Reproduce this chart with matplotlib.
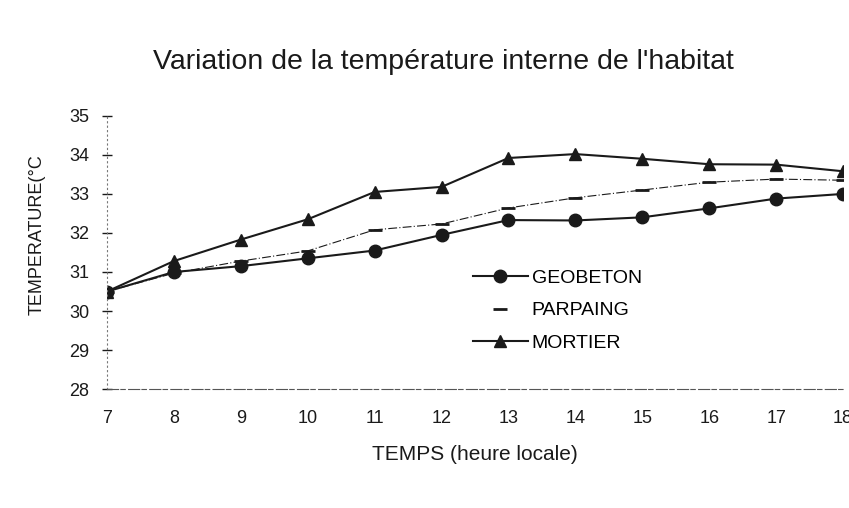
import matplotlib.pyplot as plt
from matplotlib.lines import Line2D

# Donnees
heures = [7, 8, 9, 10, 11, 12, 13, 14, 15, 16, 17, 18]
geobeton = [30.5, 31.0, 31.15, 31.35, 31.55, 31.95, 32.33, 32.32, 32.4, 32.63, 32.88, 33.0]
parpaing = [30.5, 30.97, 31.28, 31.54, 32.08, 32.23, 32.64, 32.9, 33.1, 33.3, 33.38, 33.35]
mortier = [30.5, 31.28, 31.83, 32.35, 33.05, 33.18, 33.92, 34.02, 33.9, 33.76, 33.75, 33.58]
yticks = [28, 29, 30, 31, 32, 33, 34, 35]

plt.rcParams['font.family'] = ['Liberation Sans', 'DejaVu Sans']
encre = '#1a1a1a'

fig = plt.figure(figsize=(8.49, 5.08), dpi=100)
ax = fig.add_axes([0.126, 0.234, 0.867, 0.538])

ax.plot(heures, geobeton, color=encre, lw=1.5, marker='o', ms=9)
ax.plot(heures, parpaing, color=encre, lw=0.8, ls=(0, (8, 2, 1, 2)), marker='_',
        ms=10, mew=2)
ax.plot(heures, mortier, color=encre, lw=1.5, marker='^', ms=9)

ax.set_xlim(7, 18)
ax.set_ylim(28, 35)
ax.set_xticks(heures)
ax.set_yticks(yticks)
ax.tick_params(axis='x', length=0, pad=15, labelsize=13, colors=encre)
ax.tick_params(axis='y', direction='inout', length=7, width=1, pad=9,
               labelsize=13, colors=encre)

for s in ['top', 'right']:
    ax.spines[s].set_visible(False)
ax.spines['left'].set_linestyle((0, (1, 3)))
ax.spines['left'].set_color('#777777')
ax.spines['bottom'].set_linestyle((0, (10, 2, 4, 3)))
ax.spines['bottom'].set_color('#555555')

ax.set_xlabel('TEMPS (heure locale)', fontsize=15, color=encre, labelpad=13)
ax.set_ylabel('TEMPERATURE(°C', fontsize=13, color=encre)
ax.yaxis.set_label_coords(-0.083, 0.564)
fig.text(0.522, 0.878, "Variation de la température interne de l'habitat",
         ha='center', va='center', fontsize=20.5, color=encre)

# Legende: PARPAING n'a que son marqueur
poignees = [
    Line2D([], [], color=encre, lw=1.5, marker='o', ms=9),
    Line2D([], [], color=encre, ls='none', marker='_', ms=10, mew=2),
    Line2D([], [], color=encre, lw=1.5, marker='^', ms=9),
]
ax.legend(poignees, ['GEOBETON', 'PARPAING', 'MORTIER'], loc='upper left',
          bbox_to_anchor=(0.497, 0.437), borderaxespad=0, borderpad=0,
          frameon=False, fontsize=14, handlelength=2.83, labelspacing=0.75,
          handletextpad=0.2)

plt.savefig('out.png', dpi=100)
